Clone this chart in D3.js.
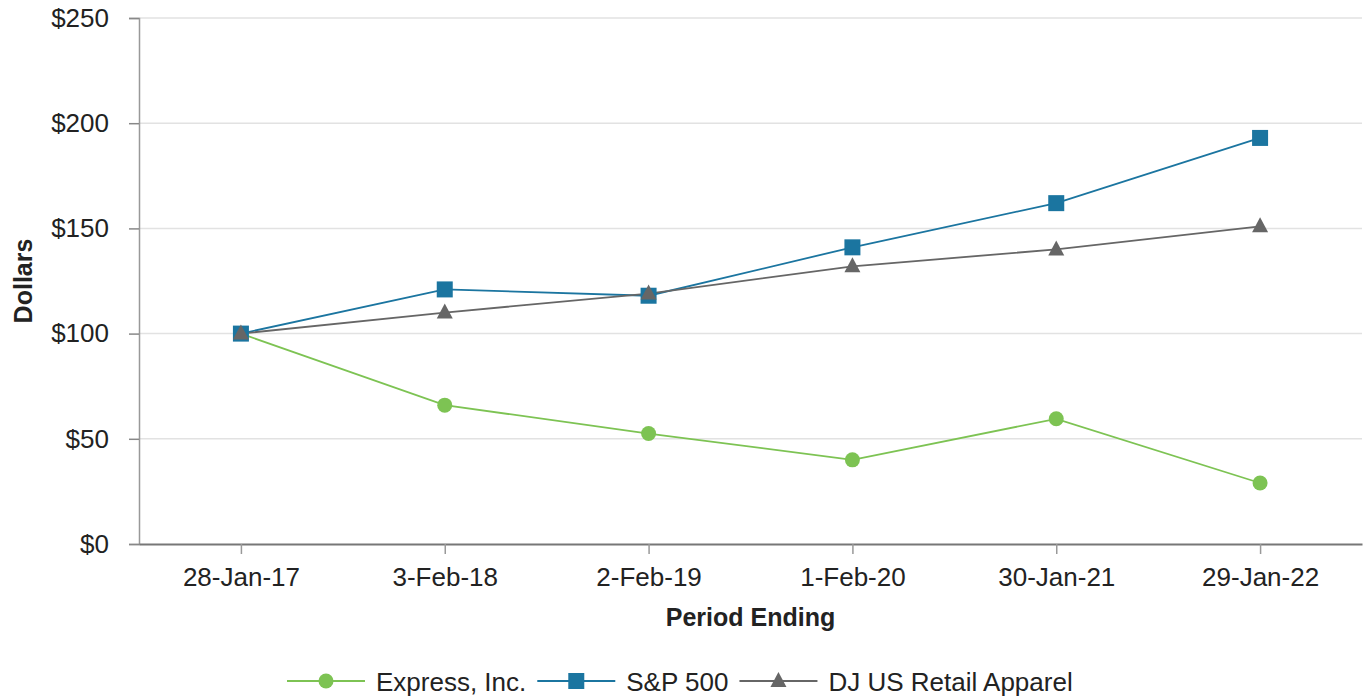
<!DOCTYPE html>
<html>
<head>
<meta charset="utf-8">
<script src="https://cdn.jsdelivr.net/npm/d3@7"></script>
<style>
  body { margin: 0; background: #fff; }
  svg text { font-family: "Liberation Sans", Arial, sans-serif; fill: #222; }
</style>
</head>
<body>
<svg id="chart" width="1367" height="697"></svg>
<script>
// data
const periods = ['28-Jan-17', '3-Feb-18', '2-Feb-19', '1-Feb-20', '30-Jan-21', '29-Jan-22'];
const express = [100, 66, 52.5, 40, 59.5, 29];
const sp500 = [100, 121, 118, 141, 162, 193];
const djRetail = [100, 110, 119, 132, 140, 151];
const yTicks = [0, 50, 100, 150, 200, 250];

const series = [
  { name: 'Express, Inc.', values: express, color: '#7dc353', shape: 'circle' },
  { name: 'S&P 500', values: sp500, color: '#1b75a0', shape: 'square' },
  { name: 'DJ US Retail Apparel', values: djRetail, color: '#666666', shape: 'triangle' }
];

const fontSize = '26px';
const svg = d3.select('#chart');
const margin = { top: 18, right: 5, bottom: 153, left: 139 };
const width = 1367 - margin.left - margin.right;
const height = 697 - margin.top - margin.bottom;

const g = svg.append('g').attr('transform', `translate(${margin.left},${margin.top})`);

const x = d3.scalePoint().domain(periods).range([0, width]).padding(0.5);
const y = d3.scaleLinear().domain([0, 250]).range([height, 0]);

// gridlines
g.selectAll('.grid')
  .data(yTicks.filter(d => d > 0))
  .enter()
  .append('line')
  .attr('x1', 0)
  .attr('x2', width)
  .attr('y1', d => y(d))
  .attr('y2', d => y(d))
  .attr('stroke', '#e2e2e2')
  .attr('stroke-width', 1.5);

// y axis
const yAxis = g.append('g')
  .call(d3.axisLeft(y).tickValues(yTicks).tickFormat(d => '$' + d).tickSize(10).tickPadding(20));
yAxis.select('.domain').attr('stroke', '#999').attr('stroke-width', 1.5);
yAxis.selectAll('.tick line').attr('stroke', '#888').attr('stroke-width', 1.5);
yAxis.selectAll('.tick text').style('font-size', fontSize).attr('fill', '#222');

// x axis
const xAxis = g.append('g')
  .attr('transform', `translate(0,${height})`)
  .call(d3.axisBottom(x).tickSize(10).tickPadding(14).tickSizeOuter(0));
xAxis.select('.domain').attr('stroke', '#777').attr('stroke-width', 2);
xAxis.selectAll('.tick line').attr('stroke', '#999').attr('stroke-width', 1.5);
xAxis.selectAll('.tick text').style('font-size', fontSize).attr('fill', '#222');

// axis titles
svg.append('text')
  .attr('transform', `translate(32,${margin.top + height / 2}) rotate(-90)`)
  .attr('text-anchor', 'middle')
  .style('font-size', '25px')
  .style('font-weight', 'bold')
  .text('Dollars');

svg.append('text')
  .attr('x', margin.left + width / 2)
  .attr('y', 626)
  .attr('text-anchor', 'middle')
  .style('font-size', '25px')
  .style('font-weight', 'bold')
  .text('Period Ending');

// marker drawing helper
function drawMarker(sel, shape, color) {
  if (shape === 'circle') {
    sel.append('circle').attr('r', 7.5).attr('fill', color);
  } else if (shape === 'square') {
    sel.append('rect').attr('x', -8).attr('y', -8).attr('width', 16).attr('height', 16).attr('fill', color);
  } else {
    sel.append('path').attr('d', 'M0,-9L8,6L-8,6Z').attr('fill', color);
  }
}

const line = d3.line().x((d, i) => x(periods[i])).y(d => y(d));

series.forEach(s => {
  g.append('path')
    .datum(s.values)
    .attr('d', line)
    .attr('fill', 'none')
    .attr('stroke', s.color)
    .attr('stroke-width', 1.8);
});

series.forEach(s => {
  s.values.forEach((v, i) => {
    const m = g.append('g').attr('transform', `translate(${x(periods[i])},${y(v)})`);
    drawMarker(m, s.shape, s.color);
  });
});

// legend (sits right at the bottom edge, as in the reference)
const legend = svg.append('g').attr('transform', 'translate(0,681)');
let lx = 287;
series.forEach(s => {
  const item = legend.append('g').attr('transform', `translate(${lx},0)`);
  item.append('line').attr('x1', 0).attr('x2', 78).attr('y1', 0).attr('y2', 0)
    .attr('stroke', s.color).attr('stroke-width', 1.8);
  const m = item.append('g').attr('transform', 'translate(39,0)');
  drawMarker(m, s.shape, s.color);
  const t = item.append('text').attr('x', 89).attr('y', 10).style('font-size', fontSize).text(s.name);
  lx += 89 + t.node().getComputedTextLength() + 11;
});
</script>
</body>
</html>
